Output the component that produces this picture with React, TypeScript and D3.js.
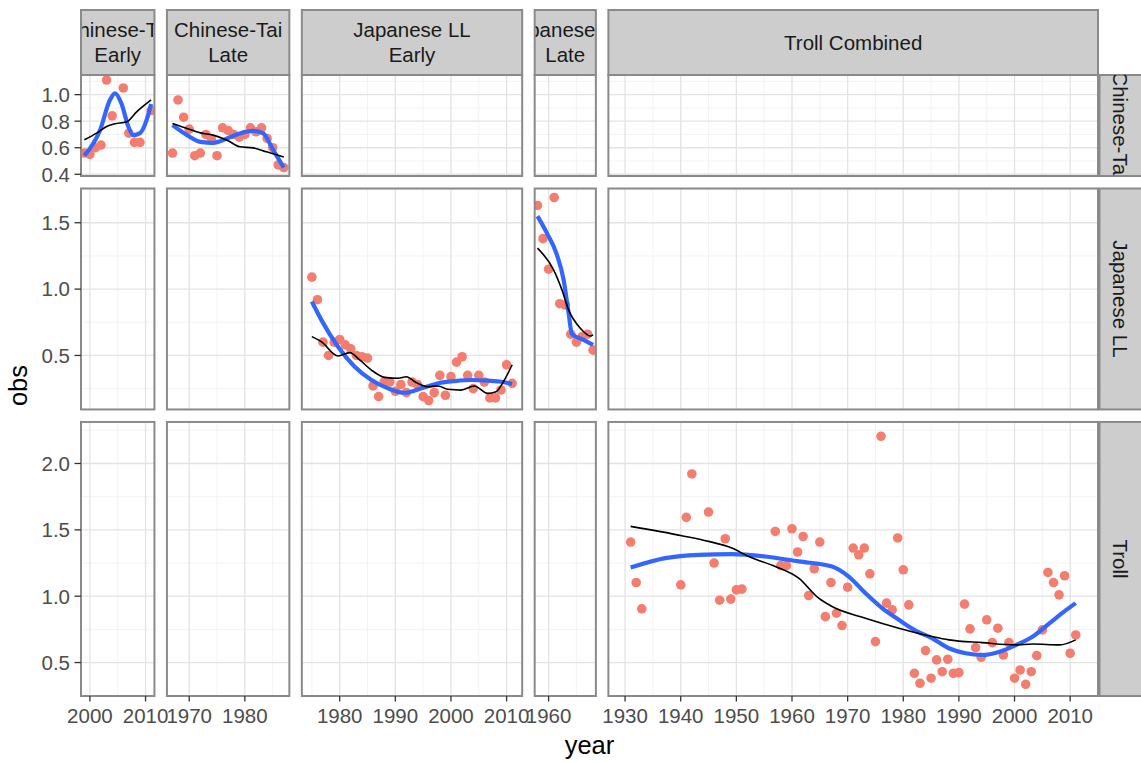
import React from "react";
import * as d3 from "d3";

// ---------------- data ----------------
const colLabels: string[][] = [
  ["Chinese-Tai", "Early"],
  ["Chinese-Tai", "Late"],
  ["Japanese LL", "Early"],
  ["Japanese LL", "Late"],
  ["Troll Combined"],
];
const rowLabels = ["Chinese-Tai", "Japanese LL", "Troll"];

const xTicks = [
  [2000, 2010],
  [1970, 1980],
  [1980, 1990, 2000, 2010],
  [1960],
  [1930, 1940, 1950, 1960, 1970, 1980, 1990, 2000, 2010],
];
const xMinor = [
  [2005],
  [1975, 1985],
  [1975, 1985, 1995, 2005],
  [1965],
  [1935, 1945, 1955, 1965, 1975, 1985, 1995, 2005],
];
const yTicks = [
  [0.4, 0.6, 0.8, 1.0],
  [0.5, 1.0, 1.5],
  [0.5, 1.0, 1.5, 2.0],
];
const yMinor = [
  [0.5, 0.7, 0.9, 1.1],
  [0.25, 0.75, 1.25, 1.75],
  [0.25, 0.75, 1.25, 1.75, 2.25],
];
const yDomains: [number, number][] = [
  [0.387, 1.148],
  [0.093, 1.758],
  [0.248, 2.313],
];

// Chinese-Taiwan Early
const ctEarlyYears = [1999, 2000, 2001, 2002, 2003, 2004, 2006, 2007, 2008, 2009, 2011];
const ctEarlyObs = [0.56, 0.55, 0.6, 0.62, 1.11, 0.84, 1.05, 0.71, 0.64, 0.64, 0.88];
const ctEarlyBlue = [[1999, 0.54], [2001.8, 0.73], [2003.6, 0.96], [2004.5, 1.01], [2005.7, 0.93], [2006.9, 0.76], [2007.8, 0.695], [2009, 0.71], [2010.2, 0.81], [2011, 0.93]];
const ctEarlyBlack = [[1999, 0.66], [2001.2, 0.71], [2003, 0.76], [2004.5, 0.78], [2006.6, 0.795], [2008.4, 0.87], [2011, 0.96]];

// Chinese-Taiwan Late
const ctLateYears = [1967, 1968, 1969, 1970, 1971, 1972, 1973, 1974, 1975, 1976, 1977, 1978, 1979, 1980, 1981, 1982, 1983, 1984, 1985, 1986, 1987];
const ctLateObs = [0.56, 0.96, 0.83, 0.74, 0.54, 0.56, 0.7, 0.66, 0.54, 0.75, 0.73, 0.7, 0.68, 0.7, 0.75, 0.72, 0.75, 0.67, 0.6, 0.47, 0.45];
const ctLateBlue = [[1967, 0.77], [1969.6, 0.695], [1972, 0.644], [1974.3, 0.637], [1976.8, 0.67], [1979.1, 0.708], [1981.5, 0.727], [1983.3, 0.708], [1985.1, 0.582], [1987, 0.45]];
const ctLateBlack = [[1967, 0.783], [1969.6, 0.745], [1972, 0.712], [1974.3, 0.695], [1976.8, 0.657], [1979.1, 0.607], [1981.5, 0.599], [1983.9, 0.569], [1987, 0.53]];

// Japanese LL Early
const jpEarlyYears = d3.range(1975, 2012);
const jpEarlyObs = [1.09, 0.92, 0.6, 0.5, 0.6, 0.62, 0.58, 0.55, 0.5, 0.49, 0.48, 0.27, 0.19, 0.3, 0.3, 0.23, 0.28, 0.22, 0.3, 0.28, 0.19, 0.16, 0.22, 0.35, 0.2, 0.34, 0.45, 0.49, 0.35, 0.25, 0.35, 0.3, 0.18, 0.18, 0.24, 0.43, 0.29];
const jpEarlyBlue = [[1975, 0.906], [1976.7, 0.768], [1979.7, 0.566], [1982.7, 0.415], [1985.7, 0.315], [1988.7, 0.252], [1991.7, 0.219], [1994.7, 0.252], [1997.7, 0.29], [2000.7, 0.307], [2003.7, 0.315], [2006.7, 0.31], [2009.1, 0.302], [2011, 0.285]];
const jpEarlyBlack = [[1975, 0.642], [1976.7, 0.604], [1979.7, 0.496], [1981.8, 0.521], [1983.6, 0.466], [1985.7, 0.39], [1988.1, 0.335], [1990.5, 0.328], [1992, 0.34], [1993.5, 0.302], [1995.9, 0.264], [1997.7, 0.27], [1999.4, 0.245], [2001.8, 0.239], [2004.2, 0.27], [2006.6, 0.214], [2008.1, 0.227], [2009.6, 0.315], [2011, 0.43]];

// Japanese LL Late
const jpLateYears = [1958, 1959, 1960, 1961, 1962, 1963, 1964, 1965, 1966, 1967, 1968];
const jpLateObs = [1.63, 1.38, 1.15, 1.69, 0.89, 0.88, 0.66, 0.6, 0.64, 0.66, 0.54];
const jpLateBlue = [[1958, 1.55], [1959.7, 1.422], [1961.5, 1.258], [1962.7, 1.07], [1963.6, 0.818], [1964.2, 0.662], [1966.3, 0.617], [1968, 0.579]];
const jpLateBlack = [[1958, 1.309], [1960.9, 1.145], [1962.4, 0.994], [1963.6, 0.843], [1965.7, 0.705], [1967.5, 0.647], [1968, 0.655]];

// Troll Combined
const trollYears = [1931, 1932, 1933, 1940, 1941, 1942, 1945, 1946, 1947, 1948, 1949, 1950, 1951, 1957, 1958, 1959, 1960, 1961, 1962, 1963, 1964, 1965, 1966, 1967, 1968, 1969, 1970, 1971, 1972, 1973, 1974, 1975, 1976, 1977, 1978, 1979, 1980, 1981, 1982, 1983, 1984, 1985, 1986, 1987, 1988, 1989, 1990, 1991, 1992, 1993, 1994, 1995, 1996, 1997, 1998, 1999, 2000, 2001, 2002, 2003, 2004, 2005, 2006, 2007, 2008, 2009, 2010, 2011];
const trollObs = [1.408, 1.103, 0.905, 1.086, 1.594, 1.921, 1.634, 1.25, 0.97, 1.433, 0.978, 1.048, 1.053, 1.488, 1.231, 1.231, 1.508, 1.333, 1.45, 1.005, 1.207, 1.408, 0.846, 1.103, 0.872, 0.779, 1.068, 1.363, 1.312, 1.363, 1.169, 0.658, 2.205, 0.948, 0.897, 1.439, 1.199, 0.935, 0.419, 0.344, 0.59, 0.382, 0.52, 0.431, 0.525, 0.419, 0.424, 0.94, 0.754, 0.613, 0.54, 0.822, 0.65, 0.759, 0.557, 0.65, 0.382, 0.444, 0.336, 0.431, 0.552, 0.746, 1.179, 1.103, 1.01, 1.154, 0.57, 0.708];
const trollBlue = [[1931, 1.216], [1937.2, 1.287], [1943.2, 1.312], [1949.2, 1.317], [1955.2, 1.299], [1961.2, 1.262], [1967.2, 1.224], [1970.2, 1.148], [1973.2, 1.023], [1976.2, 0.91], [1979.2, 0.822], [1982.2, 0.741], [1985.2, 0.683], [1988.2, 0.608], [1991.2, 0.57], [1994.2, 0.557], [1997.3, 0.582], [2000.3, 0.633], [2003.3, 0.696], [2006.3, 0.797], [2009.3, 0.897], [2011, 0.948]];
const trollBlack = [[1931, 1.526], [1940.2, 1.456], [1945, 1.413], [1949.2, 1.363], [1952.2, 1.299], [1957, 1.224], [1961.2, 1.136], [1964.8, 0.985], [1967.2, 0.922], [1973.2, 0.834], [1979.2, 0.759], [1985.2, 0.696], [1988.2, 0.671], [1994.2, 0.65], [2000.3, 0.633], [2003.3, 0.64], [2008.1, 0.633], [2011, 0.671]];

const panels = [
  { r: 0, c: 0, years: ctEarlyYears, obs: ctEarlyObs, blue: ctEarlyBlue, black: ctEarlyBlack },
  { r: 0, c: 1, years: ctLateYears, obs: ctLateObs, blue: ctLateBlue, black: ctLateBlack },
  { r: 1, c: 2, years: jpEarlyYears, obs: jpEarlyObs, blue: jpEarlyBlue, black: jpEarlyBlack },
  { r: 1, c: 3, years: jpLateYears, obs: jpLateObs, blue: jpLateBlue, black: jpLateBlack },
  { r: 2, c: 4, years: trollYears, obs: trollObs, blue: trollBlue, black: trollBlack },
];

const FONT = "'Liberation Sans', Arial, Helvetica, sans-serif";

export default function App() {
  const W = 1141, H = 763;
  const L = 81, R = 1098, T = 75, B = 696, GAP = 12.5;
  const stripTop = 10, stripRight = 1141;
  const tickFont = 20.5, stripFont = 20.5, titleFont = 25.5;
  const borderCol = "#8a8a8a";

  const xDomains = colLabels.map((_, c) => {
    const p = panels.find((q) => q.c === c)!;
    const [a, b] = d3.extent(p.years) as [number, number];
    const pad = (b - a) * 0.05;
    return [a - pad, b + pad] as [number, number];
  });
  const xSpans = xDomains.map((d) => d[1] - d[0]);
  const kx = (R - L - GAP * (xSpans.length - 1)) / d3.sum(xSpans);
  let cx = L;
  const colRanges = xSpans.map((s) => {
    const r: [number, number] = [cx, cx + s * kx];
    cx += s * kx + GAP;
    return r;
  });
  const ySpans = yDomains.map((d) => d[1] - d[0]);
  const ky = (B - T - GAP * (ySpans.length - 1)) / d3.sum(ySpans);
  let cy = T;
  const rowRanges = ySpans.map((s) => {
    const r: [number, number] = [cy, cy + s * ky];
    cy += s * ky + GAP;
    return r;
  });

  const xScales = xDomains.map((d, c) => d3.scaleLinear().domain(d).range(colRanges[c]));
  const yScales = yDomains.map((d, r) => d3.scaleLinear().domain(d).range([rowRanges[r][1], rowRanges[r][0]]));
  const fmt = d3.format(".1f");

  const cells: JSX.Element[] = [];
  rowLabels.forEach((_, r) => {
    colLabels.forEach((__, c) => {
      const x = xScales[c], y = yScales[r];
      const [x0, x1] = colRanges[c];
      const [y0, y1] = rowRanges[r];
      const id = `clip-${r}-${c}`;
      const p = panels.find((q) => q.r === r && q.c === c);
      const inX = (v: number) => v >= xDomains[c][0] && v <= xDomains[c][1];
      const inY = (v: number) => v >= yDomains[r][0] && v <= yDomains[r][1];
      const line = d3
        .line<number[]>()
        .curve(d3.curveMonotoneX)
        .x((d) => x(d[0]))
        .y((d) => y(d[1]));
      cells.push(
        <g key={id}>
          <clipPath id={id}>
            <rect x={x0} y={y0} width={x1 - x0} height={y1 - y0} />
          </clipPath>
          <rect x={x0} y={y0} width={x1 - x0} height={y1 - y0} fill="#fff" />
          {xMinor[c].filter(inX).map((v) => (
            <line key={"xm" + v} x1={x(v)} x2={x(v)} y1={y0} y2={y1} stroke="#f0f0f0" strokeWidth={0.8} />
          ))}
          {yMinor[r].filter(inY).map((v) => (
            <line key={"ym" + v} x1={x0} x2={x1} y1={y(v)} y2={y(v)} stroke="#f0f0f0" strokeWidth={0.8} />
          ))}
          {xTicks[c].filter(inX).map((v) => (
            <line key={"xM" + v} x1={x(v)} x2={x(v)} y1={y0} y2={y1} stroke="#e3e3e3" strokeWidth={1.3} />
          ))}
          {yTicks[r].filter(inY).map((v) => (
            <line key={"yM" + v} x1={x0} x2={x1} y1={y(v)} y2={y(v)} stroke="#e3e3e3" strokeWidth={1.3} />
          ))}
          {p && (
            <g clipPath={`url(#${id})`}>
              {p.years.map((yr, i) => (
                <circle key={yr} cx={x(yr)} cy={y(p.obs[i])} r={4.8} fill="#F37D6F" />
              ))}
              <path d={line(p.blue) || ""} fill="none" stroke="#3366FF" strokeWidth={4.2} />
              <path d={line(p.black) || ""} fill="none" stroke="#000" strokeWidth={1.6} />
            </g>
          )}
          <rect x={x0} y={y0} width={x1 - x0} height={y1 - y0} fill="none" stroke={borderCol} strokeWidth={2} />
          {r === rowLabels.length - 1 &&
            xTicks[c].filter(inX).map((v) => (
              <g key={"xt" + v}>
                <line x1={x(v)} x2={x(v)} y1={y1} y2={y1 + 5.5} stroke="#333" strokeWidth={1.3} />
                <text x={x(v)} y={y1 + 26.5} textAnchor="middle" fontSize={tickFont} fill="#4d4d4d">
                  {v}
                </text>
              </g>
            ))}
          {c === 0 &&
            yTicks[r].filter(inY).map((v) => (
              <g key={"yt" + v}>
                <line x1={x0 - 6.5} x2={x0} y1={y(v)} y2={y(v)} stroke="#333" strokeWidth={1.3} />
                <text x={x0 - 11} y={y(v)} dy="0.36em" textAnchor="end" fontSize={tickFont} fill="#4d4d4d">
                  {fmt(v)}
                </text>
              </g>
            ))}
        </g>
      );
    });
  });

  // top strips
  const topStrips = colLabels.map((lab, c) => {
    const [x0, x1] = colRanges[c];
    const id = `tclip-${c}`;
    const mid = (x0 + x1) / 2;
    const sh = T - stripTop;
    const lh = 25;
    const startY = stripTop + sh / 2 - ((lab.length - 1) * lh) / 2;
    return (
      <g key={id}>
        <clipPath id={id}>
          <rect x={x0} y={stripTop} width={x1 - x0} height={sh} />
        </clipPath>
        <rect x={x0} y={stripTop} width={x1 - x0} height={sh} fill="#cdcdcd" />
        <g clipPath={`url(#${id})`}>
          {lab.map((t, i) => (
            <text key={i} x={mid} y={startY + i * lh} dy="0.36em" textAnchor="middle" fontSize={stripFont} fill="#1a1a1a">
              {t}
            </text>
          ))}
        </g>
        <rect x={x0} y={stripTop} width={x1 - x0} height={sh} fill="none" stroke={borderCol} strokeWidth={2} />
      </g>
    );
  });

  const rsx0 = R + 1.5;
  const rightStrips = rowLabels.map((lab, r) => {
    const [y0, y1] = rowRanges[r];
    const id = `rclip-${r}`;
    const midX = (rsx0 + stripRight) / 2;
    const midY = (y0 + y1) / 2;
    return (
      <g key={id}>
        <clipPath id={id}>
          <rect x={rsx0} y={y0} width={stripRight - rsx0} height={y1 - y0} />
        </clipPath>
        <rect x={rsx0} y={y0} width={stripRight - rsx0 + 4} height={y1 - y0} fill="#cdcdcd" stroke={borderCol} strokeWidth={2} />
        <g clipPath={`url(#${id})`}>
          <text
            transform={`translate(${midX},${midY}) rotate(90)`}
            dy="0.36em"
            textAnchor="middle"
            fontSize={stripFont}
            fill="#1a1a1a"
          >
            {lab}
          </text>
        </g>
      </g>
    );
  });

  return (
    <svg
      width={W}
      height={H}
      style={{ position: "absolute", left: 0, top: 0, background: "#fff" }}
      fontFamily={FONT}
    >
      <rect x={0} y={0} width={W} height={H} fill="#fff" />
      {cells}
      {topStrips}
      {rightStrips}
      <text x={(L + R) / 2} y={754} textAnchor="middle" fontSize={titleFont} fill="#000">
        year
      </text>
      <text transform={`translate(27,${(T + B) / 2}) rotate(-90)`} textAnchor="middle" fontSize={titleFont} fill="#000">
        obs
      </text>
    </svg>
  );
}
